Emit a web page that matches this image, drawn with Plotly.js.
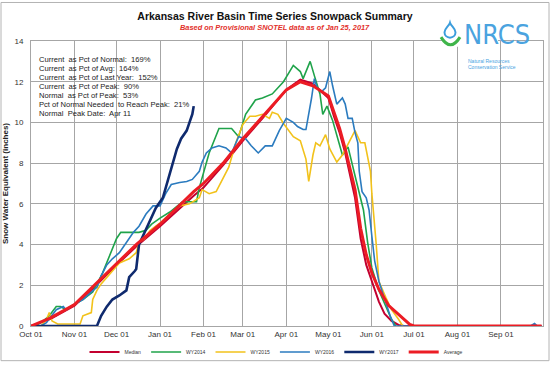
<!DOCTYPE html>
<html><head><meta charset="utf-8">
<script src="https://cdn.plot.ly/plotly-3.0.1.min.js"></script>
<style>html,body{margin:0;padding:0;background:#fff}#chart{width:550px;height:374px}</style>
</head><body><div id="chart"></div>
<script>
// Dates are MM-DD within the water year (Oct 2016 - Sep 2017)
const medianDates = ['10-01','10-15','11-01','11-15','12-01','12-15','01-01','01-15','01-25','02-01','02-15','03-01','03-15','04-01','04-11','04-20','05-01','05-05','05-09','05-13','05-17','05-20','05-24','05-28','06-01','06-06','06-10','06-15','06-20','06-24','09-30'];
const medianVals  = [0,0.35,1.0,1.9,3.0,3.9,4.9,5.8,6.4,6.8,7.9,9.1,10.2,11.6,12.1,11.9,11.2,10.3,9.5,8.5,7.2,6.3,4.3,3.0,2.2,1.2,0.6,0.25,0.05,0,0];

const avgDates = ['10-01','10-15','11-01','11-15','12-01','12-15','01-01','01-15','01-25','02-01','02-15','03-01','03-15','04-01','04-11','04-20','05-01','05-05','05-09','05-13','05-17','05-20','05-24','05-28','06-01','06-06','06-13','06-20','06-24','06-28','07-01','09-30'];
const avgVals  = [0,0.4,1.05,2.0,3.05,4.0,5.0,5.95,6.6,7.0,8.0,9.2,10.3,11.6,12.0,11.8,11.3,10.5,9.7,8.7,7.5,6.7,4.8,3.5,2.6,1.8,1.0,0.55,0.3,0.08,0,0];

const wy2014Dates = ['10-01','10-05','10-09','10-14','10-19','10-22','10-26','10-31','11-07','11-14','11-21','11-26','12-01','12-04','12-17','12-22','12-26','01-01','01-08','01-17','01-27','01-29','02-05','02-12','02-21','02-26','03-03','03-10','03-15','03-22','03-30','04-06','04-11','04-13','04-18','04-21','04-25','04-27','04-30','05-04','05-08','05-11','05-15','05-18','05-21','05-26','05-29','06-01','06-06','06-11','06-15','06-18'];
const wy2014Vals  = [0,0.05,0.2,0.5,0.96,0.96,0.8,1.04,1.3,1.67,2.6,3.5,4.3,4.6,4.6,4.7,5.0,5.3,5.6,6.1,6.1,6.8,8.5,9.7,9.7,9.3,10.4,11.1,11.2,11.4,12.0,12.8,12.5,12.15,13.0,12.3,11.4,10.4,10.8,10.1,9.2,8.4,8.8,7.9,7.1,5.7,4.1,2.85,1.75,0.96,0.33,0];

const wy2015Dates = ['10-01','10-08','10-12','10-14','10-16','10-20','10-26','11-05','11-07','11-13','11-14','11-17','11-20','11-24','11-28','12-03','12-10','12-15','12-17','12-21','12-25','01-01','01-08','01-15','01-22','01-29','01-31','02-05','02-10','02-14','02-19','02-24','03-01','03-06','03-10','03-15','03-20','03-22','03-26','03-30','04-03','04-06','04-11','04-15','04-17','04-20','04-22','04-25','04-29','05-02','05-07','05-11','05-14','05-20','05-24','05-27','05-31','06-01','06-04','06-06','06-11','06-15','06-20','06-23'];
const wy2015Vals  = [0,0,0.3,0.66,0.25,0.1,0.1,0.1,0.5,0.66,1.3,1.75,2.07,2.4,2.7,3.1,3.3,3.6,4.1,4.3,4.7,5.06,5.5,5.9,6.0,6.3,6.7,6.5,6.6,7.1,7.8,9.0,9.9,10.3,10.3,10.4,10.2,10.5,10.4,9.95,9.6,9.3,9.1,8.2,7.1,8.4,9.0,8.85,9.4,8.7,8.05,8.4,8.8,9.6,9.0,9.0,7.6,6.5,4.1,2.2,1.4,0.8,0.33,0];

const wy2016Dates = ['10-01','10-08','10-12','10-19','10-24','10-26','11-02','11-07','11-13','11-17','11-20','11-24','11-28','12-03','12-08','12-13','12-17','12-22','12-27','01-01','01-05','01-09','01-15','01-20','01-24','01-29','01-31','02-03','02-07','02-12','02-17','02-21','02-26','03-03','03-07','03-12','03-17','03-22','03-27','04-01','04-06','04-09','04-13','04-15','04-19','04-21','04-23','04-26','04-29','05-02','05-04','05-07','05-11','05-13','05-15','05-18','05-20','05-22','05-23','05-25','05-28','05-30','06-01','06-03','06-06','06-11','06-14','06-17','09-22','09-25','09-27','09-30'];
const wy2016Vals  = [0,0,0.16,0.8,0.96,0.8,1.1,1.3,1.67,1.9,2.46,3.0,3.3,3.6,4.1,4.6,4.9,5.5,5.9,5.9,6.5,6.95,7.05,7.1,7.2,7.6,8.05,8.5,8.75,8.85,8.75,8.5,9.3,9.2,8.85,8.5,8.85,8.85,9.6,10.2,10.0,9.8,9.65,9.65,11.2,12.15,11.7,11.5,11.7,12.5,11.8,10.9,11.2,10.9,10.2,10.2,9.5,9.0,7.6,6.6,6.3,5.7,4.4,3.2,2.2,1.1,0.5,0,0,0.12,0,0];

const wy2017Dates = ['10-01','11-17','11-20','11-24','11-28','12-03','12-08','12-10','12-14','12-15','12-17','12-21','12-25','12-29','01-03','01-05','01-09','01-13','01-16','01-20','01-22','01-24','01-25'];
const wy2017Vals  = [0,0,0.5,0.95,1.3,1.5,1.75,2.4,2.7,2.8,4.0,4.6,5.2,5.8,6.3,6.8,7.8,8.7,9.2,9.6,10.0,10.4,10.8];

const seriesNames = ['Median','WY2014','WY2015','WY2016','WY2017','Average'];
const tickLabelsNote = 'Oct 01 ... Sep 01 (monthly)';
const statLines = [
  'Current  as Pct of Normal:  169%',
  'Current  as Pct of Avg:  164%',
  'Current  as Pct of Last Year:  152%',
  'Current  as Pct of Peak:  90%',
  'Normal  as Pct of Peak:  53%',
  'Pct of Normal Needed  to Reach Peak:  21%',
  'Normal  Peak Date:  Apr 11'
];

function wy(d){ return (parseInt(d.slice(0,2),10) >= 10 ? '2016-' : '2017-') + d; }

const FONT = 'Liberation Sans, Arial, sans-serif';
// plot area in pixels: x 31..543, y 41..337
const PX = v => (v - 31) / 512;
const PY = v => (337 - v) / 296;
function pathFrom(cmds){
  return cmds.map(c => {
    if (typeof c === 'string') return c;
    return PX(c[0]).toFixed(5) + ',' + PY(c[1]).toFixed(5);
  }).join(' ');
}

const defs = [
  {name:'Median', d:medianDates, v:medianVals, color:'#c3002f', width:2},
  {name:'WY2014', d:wy2014Dates, v:wy2014Vals, color:'#1fa34a', width:1.6},
  {name:'WY2015', d:wy2015Dates, v:wy2015Vals, color:'#f2c21b', width:1.6},
  {name:'WY2016', d:wy2016Dates, v:wy2016Vals, color:'#2b7bbf', width:1.6},
  {name:'WY2017', d:wy2017Dates, v:wy2017Vals, color:'#0f2a6e', width:2.6},
  {name:'Average', d:avgDates, v:avgVals, color:'#ec1c24', width:3}
];
const traces = defs.map(s => ({
  type:'scatter', mode:'lines', name:s.name,
  x:s.d.map(wy), y:s.v,
  line:{color:s.color, width:s.width}
}));

const annotations = statLines.map((t,i) => ({
  xref:'paper', yref:'paper', x:PX(37), y:PY(60 + 9.33*i),
  xanchor:'left', yanchor:'middle', text:t, showarrow:false,
  font:{family:FONT, size:7.6, color:'#222'}
}));
annotations.push({
  xref:'paper', yref:'paper', x:PX(275), y:PY(27), xanchor:'center', yanchor:'middle',
  text:'<b><i>Based on Provisional SNOTEL data as of Jan 25, 2017</i></b>', showarrow:false,
  font:{family:FONT, size:7.4, color:'#e2312b'}
});
annotations.push({
  xref:'paper', yref:'paper', x:PX(462), y:PY(34), xanchor:'left', yanchor:'middle',
  text:'NRCS', showarrow:false,
  font:{family:'Liberation Sans Narrow, DejaVu Sans Condensed, sans-serif', size:27, color:'#4aa3df'}
});
annotations.push({
  xref:'paper', yref:'paper', x:PX(466), y:PY(61.5), xanchor:'left', yanchor:'middle',
  text:'Natural Resources', showarrow:false,
  font:{family:'Liberation Sans Narrow, sans-serif', size:5, color:'#4aa3df'}
});
annotations.push({
  xref:'paper', yref:'paper', x:PX(466), y:PY(68), xanchor:'left', yanchor:'middle',
  text:'Conservation Service', showarrow:false,
  font:{family:'Liberation Sans Narrow, sans-serif', size:5, color:'#4aa3df'}
});

const shapes = [
  {type:'rect', xref:'paper', yref:'paper', x0:PX(1), x1:PX(549), y0:PY(373), y1:PY(1),
   line:{color:'#b4b4b4', width:1}, fillcolor:'rgba(0,0,0,0)', layer:'below'},
  {type:'rect', xref:'paper', yref:'paper', x0:PX(443), x1:PX(498), y0:PY(47), y1:PY(36),
   line:{width:0}, fillcolor:'#ffffff', layer:'above'},
  {type:'path', xref:'paper', yref:'paper', layer:'above',
   path:pathFrom(['M',[450,22],'C',[451,25.5],[455.5,28],[455.5,32],'C',[455.5,35.2],[453,37.5],[450,37.5],'C',[447,37.5],[444.5,35.2],[444.5,32],'C',[444.5,28],[449,25.5],[450,22],'Z']),
   line:{color:'#3b9ddc', width:2}, fillcolor:'#ffffff'},
  {type:'path', xref:'paper', yref:'paper', layer:'above',
   path:pathFrom(['M',[441,37],'Q',[450.5,53],[460,37]]),
   line:{color:'#3fb54a', width:3}}
];

const layout = {
  width:550, height:374,
  margin:{l:31, r:7, t:41, b:37, pad:0},
  paper_bgcolor:'#ffffff', plot_bgcolor:'#ffffff',
  font:{family:FONT, color:'#333'},
  title:{text:'<b>Arkansas River Basin Time Series Snowpack Summary</b>',
         font:{family:FONT, size:10.5, color:'#111'},
         x:0.5, xref:'container', xanchor:'center', y:1 - 16/374, yref:'container', yanchor:'middle'},
  xaxis:{type:'date', range:['2016-10-01','2017-10-01'], tick0:'2016-10-01', dtick:'M1',
         tickformat:'%b %d', showgrid:true, gridcolor:'#a6a6a6', gridwidth:1,
         showline:true, linecolor:'#a6a6a6', linewidth:1, mirror:true, zeroline:false,
         ticks:'', tickfont:{family:FONT, size:8, color:'#333'}, fixedrange:true},
  yaxis:{range:[0,14], dtick:2, tick0:0, showgrid:true, gridcolor:'#a6a6a6', gridwidth:1,
         showline:true, linecolor:'#a6a6a6', linewidth:1, mirror:true, zeroline:false,
         ticks:'', ticklabelstandoff:5, tickfont:{family:FONT, size:8, color:'#333'},
         title:{text:'<b>Snow Water Equivalent (inches)</b>', font:{family:FONT, size:8, color:'#222'}, standoff:4},
         fixedrange:true},
  showlegend:true,
  legend:{orientation:'h', x:PX(276), xanchor:'center', y:PY(364), yanchor:'middle',
          font:{family:FONT, size:5, color:'#333'}, bgcolor:'rgba(0,0,0,0)', traceorder:'normal',
          itemwidth:30, tracegroupgap:0},
  annotations:annotations,
  shapes:shapes
};

Plotly.newPlot('chart', traces, layout, {displayModeBar:false, staticPlot:true});
</script>
</body></html>
